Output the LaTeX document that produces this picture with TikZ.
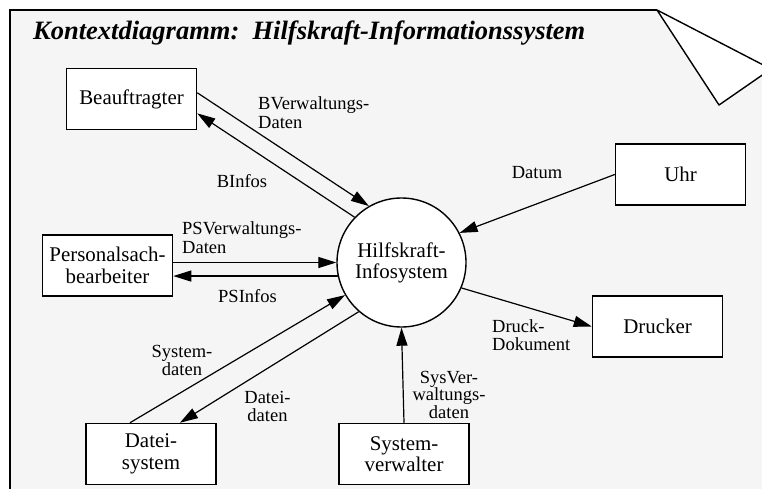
\documentclass[tikz,border=0pt]{standalone}
\usepackage{fontspec}
\setmainfont{Liberation Serif}
\usetikzlibrary{arrows.meta,calc}
\definecolor{pagegray}{RGB}{245,245,245}
\begin{document}
\begin{tikzpicture}[x=1pt,y=-1pt,
  flow/.style={line width=1.2pt,-{Triangle[length=18pt,width=11pt]}},
  entity/.style={draw,line width=1.5pt,fill=white,minimum width=130pt,minimum height=61pt,
    inner sep=0pt,align=center,font=\fontsize{20.9}{21.5}\selectfont},
  proc/.style={draw,circle,line width=1.4pt,fill=white,minimum size=129pt,inner sep=0pt,
    align=center,font=\fontsize{20.9}{21}\selectfont},
  lbl/.style={inner sep=0pt,font=\fontsize{18.5}{18.5}\selectfont}
]
\useasboundingbox (0,0) rectangle (762,489);
\clip (0,0) rectangle (762,489);

% page with a folded corner
\fill[pagegray] (10,500) -- (10,10) -- (657,10) -- (719,105) -- (771,69) -- (771,500) -- cycle;
\draw[line width=1.4pt] (10,500) -- (10,10) -- (657,10);
\draw[line width=1.4pt,fill=white,line join=round] (657,10) -- (719,105) -- (771,69) -- cycle;

% title
\node[anchor=base west,inner sep=0pt,font=\fontsize{26.5}{26.5}\selectfont\bfseries\itshape]
  (title) at (33,40) {Kontextdiagramm:\ \ Hilfskraft-Informationssystem};

% central process
\node[proc] (hk) at (401.5,262.5) {Hilfskraft-\\Infosystem};

% external entities
\node[entity] (beauf) at (131.5,99)  {Beauftragter};
\node[entity] (ps)    at (107.5,265.5) {Personalsach-\\bearbeiter};
\node[entity] (uhr)   at (680.5,174.5) {Uhr};
\node[entity] (druck) at (657.5,326.5) {Drucker};
\node[entity] (datei) at (151,454)   {Datei-\\system};
\node[entity] (sv)    at (404,454)   {System-\\verwalter};

% data flows
\draw[flow] ($(beauf.north east)!0.40!(beauf.south east)$) -- (hk.120);
\draw[flow] (hk.136) -- ($(beauf.north east)!0.73!(beauf.south east)$);
\draw[flow] (ps.east |- hk.180) -- (hk.180);
\draw[flow] (hk.192) -- (ps.east |- hk.192);
\draw[flow] ($(datei.north west)!0.34!(datei.north east)$) -- (hk.210);
\draw[flow] (hk.229) -- ($(datei.north west)!0.72!(datei.north east)$);
\draw[flow] (sv.north) -- (hk.south);
\draw[flow] (uhr.west) -- (hk.27);
\draw[flow] (hk.-23) -- (druck.west);

% flow labels
\node[lbl,anchor=west,align=left] (lbv) at (258,112.5) {BVerwaltungs-\\Daten};
\node[lbl] (lbi) at (242,181) {BInfos};
\node[lbl,anchor=west,align=left] (lpv) at (182,237.5) {PSVerwaltungs-\\Daten};
\node[lbl] (lpi) at (247.5,296) {PSInfos};
\node[lbl,align=center,font=\fontsize{18.5}{17.5}\selectfont] (lsd) at (182,360.5) {System-\\daten};
\node[lbl,align=center,font=\fontsize{18.5}{17.5}\selectfont] (ldd) at (267.5,406.5) {Datei-\\daten};
\node[lbl,align=center,font=\fontsize{18.5}{17.5}\selectfont] (lsv) at (449,394.5) {SysVer-\\waltungs-\\daten};
\node[lbl] (ldt) at (537,173) {Datum};
\node[lbl,anchor=west,align=left,font=\fontsize{18.5}{18}\selectfont] (ldr) at (492,335) {Druck-\\Dokument};
\end{tikzpicture}
\end{document}
